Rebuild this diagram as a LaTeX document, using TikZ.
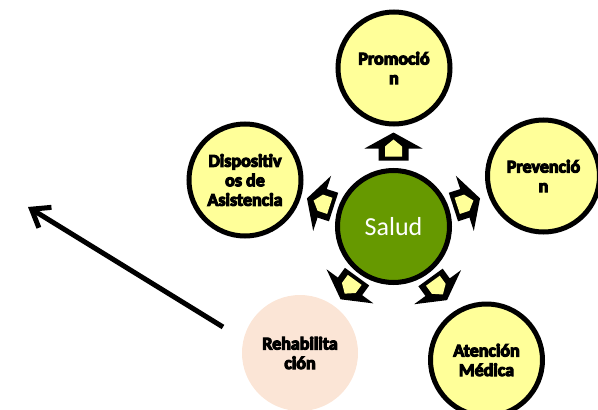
\documentclass[tikz,border=0pt]{standalone}
\usepackage{fontspec}
\setmainfont{Carlito}
\newfontfamily\lab{Carlito Bold}[FakeBold=6]
\usetikzlibrary{arrows.meta,calc}
\definecolor{ylw}{HTML}{FFFF99}
\definecolor{grn}{HTML}{669900}
\definecolor{pch}{HTML}{FBE5D6}
\tikzset{
  circ/.style={circle, draw=black, line width=5pt, fill=ylw, minimum size=112pt,
    inner sep=0pt, align=center, font=\lab\fontsize{18}{19.5}\selectfont},
  softcirc/.style={circ, draw=none, fill=pch, minimum size=116pt},
  hub/.style={circ, fill=grn, text=white, font=\rmfamily\fontsize{26}{28}\selectfont},
  mainarrow/.style={line width=5pt, -{Straight Barb[length=16pt,width=24pt,line width=5pt]}},
  barrow/.pic={
    \fill[black] (-14,-15) -- (-2,-15) -- (-2,-29) -- (14,0) -- (-2,29) -- (-2,15) -- (-14,15) -- cycle;
    \fill[ylw] (-10,-8.5) -- (0,-8.5) -- (7,0) -- (0,8.5) -- (-10,8.5) -- cycle;
  }
}
\begin{document}
\begin{tikzpicture}[x=1pt,y=-1pt]
\useasboundingbox (0,0) rectangle (598,410);
\node[hub] (salud) at (393.5,226.5) {Salud};
\node[circ] (prom) at (394,68) {Promoció\\n};
\node[circ] (prev) at (543.5,176) {Prevenció\\n};
\node[circ] (disp) at (245,180) {Dispositiv\\os de\\Asistencia};
\node[circ] (aten) at (486.5,360) {Atención\\Médica};
\node[softcirc] (rehab) at (300,353) {Rehabilita\\ción};
\foreach \a/\d in {90/80, 18/77, 162/77, 234/76, 306/77}
  \pic[rotate=\a] at ($(salud)+(-\a:\d)$) {barrow};
\coordinate (tail) at (223,327);
\coordinate (tip) at (28,207);
\draw[mainarrow] (tail) -- (tip);
\end{tikzpicture}
\end{document}
